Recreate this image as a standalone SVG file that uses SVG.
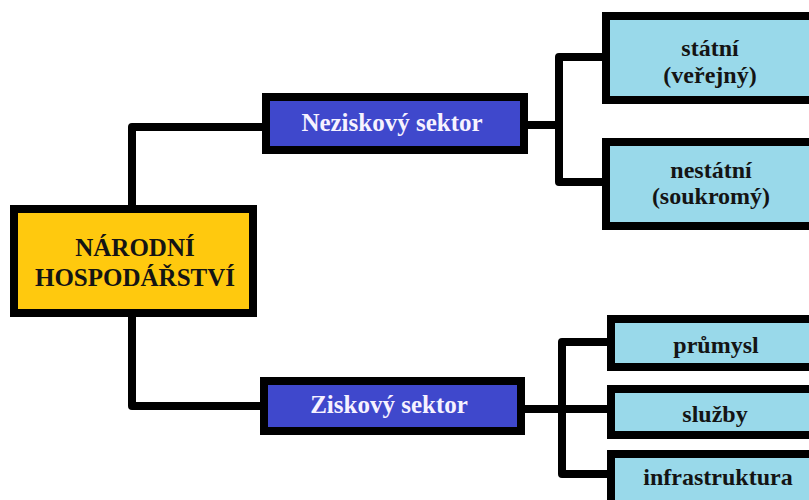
<svg xmlns="http://www.w3.org/2000/svg" width="809" height="500" viewBox="0 0 809 500">
  <style>
    .box { stroke: #000; stroke-width: 8; }
    .root { fill: #FFC90E; }
    .sector { fill: #3F48CC; }
    .leaf { fill: #99D9EA; }
    .wire { fill: none; stroke: #000; stroke-width: 8; stroke-linejoin: round; }
    text { font-family: "Liberation Serif", "Times New Roman", serif; font-weight: bold; font-size: 24px; text-anchor: middle; }
    .big { font-size: 25px; }
    .dark { fill: #141414; }
    .light { fill: #F6F2FF; }
  </style>
  <rect width="809" height="500" fill="#fff"/>

  <g id="connectors">
    <path class="wire" d="M132 206 V127 H263"/>
    <path class="wire" d="M132 316 V406 H261"/>
    <path class="wire" d="M527 125 H559"/>
    <path class="wire" d="M603 57 H559 V182 H603"/>
    <path class="wire" d="M524 409 H562"/>
    <path class="wire" d="M608 342 H562 V474 H608"/>
    <path class="wire" d="M562 409 H608"/>
  </g>

  <g id="narodni-hospodarstvi">
    <rect class="box root" x="14" y="209" width="239" height="104"/>
    <text class="dark big" x="135" y="256">NÁRODNÍ</text>
    <text class="dark big" x="135" y="286">HOSPODÁŘSTVÍ</text>
  </g>

  <g id="neziskovy-sektor">
    <rect class="box sector" x="266" y="97" width="258" height="53"/>
    <text class="light big" x="392" y="131">Neziskový sektor</text>
  </g>

  <g id="ziskovy-sektor">
    <rect class="box sector" x="264" y="381" width="257" height="50"/>
    <text class="light big" x="389" y="413">Ziskový sektor</text>
  </g>

  <g id="statni">
    <rect class="box leaf" x="606" y="16" width="220" height="84"/>
    <text class="dark" x="710" y="56">státní</text>
    <text class="dark" x="710" y="83">(veřejný)</text>
  </g>

  <g id="nestatni">
    <rect class="box leaf" x="606" y="142" width="220" height="84"/>
    <text class="dark" x="711" y="178">nestátní</text>
    <text class="dark" x="711" y="204">(soukromý)</text>
  </g>

  <g id="prumysl">
    <rect class="box leaf" x="611" y="319" width="220" height="48"/>
    <text class="dark" x="716" y="353">průmysl</text>
  </g>

  <g id="sluzby">
    <rect class="box leaf" x="611" y="389" width="220" height="46"/>
    <text class="dark" x="715" y="422">služby</text>
  </g>

  <g id="infrastruktura">
    <rect class="box leaf" x="611" y="454" width="220" height="60"/>
    <text class="dark" x="718" y="485">infrastruktura</text>
  </g>
</svg>
